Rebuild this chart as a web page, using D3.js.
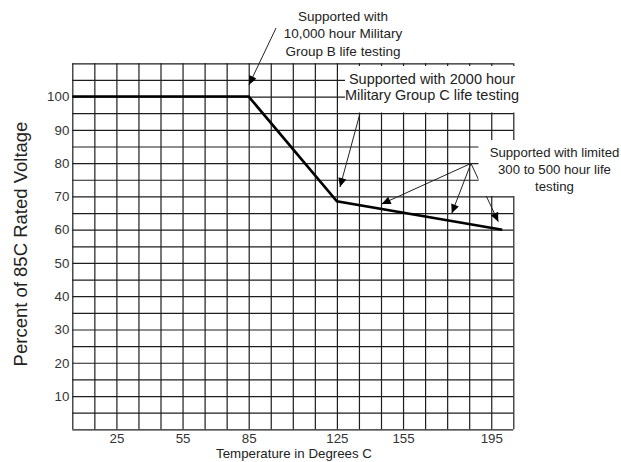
<!DOCTYPE html>
<html>
<head>
<meta charset="utf-8">
<script src="https://cdn.jsdelivr.net/npm/d3@7"></script>
<style>
  html, body { margin: 0; padding: 0; background: #fff; }
  svg { display: block; font-family: "Liberation Sans", Arial, sans-serif; }
</style>
</head>
<body>
<svg id="chart" width="621" height="462"></svg>
<script>
// Derating curve: percent of 85C rated voltage vs. temperature
const temperatures = [5, 85, 125, 200];
const percentRated = [100, 100, 68.5, 60];

// Axis labels
const xTickLabels = [25, 55, 85, 125, 155, 195];
const yTickLabels = [10, 20, 30, 40, 50, 60, 70, 80, 90, 100];

// Grid spacing (data units)
const xGridValues = d3.range(5, 206, 10);
const yGridValues = d3.range(0, 111, 5);

// Annotation arrows in data units: [fromTemp, fromPct, toTemp, toPct]
const arrowsGroupB = [[97.4, 120.6, 85.1, 103.5]];
const arrowsGroupC = [[135.5, 95, 126.4, 72.8]];
const arrowsLimited = [
  [185.8, 79.9, 145.3, 67.7],
  [185.8, 79.9, 177.1, 64.9],
  [185.8, 79.9, 198.2, 62.4]
];

const noteGroupB = ["Supported with", "10,000 hour Military", "Group B life testing"];
const noteGroupC = ["Supported with 2000 hour", "Military Group C life testing"];
const noteLimited = ["Supported with limited", "300 to 500 hour life", "testing"];

const svg = d3.select("#chart");
const margin = { left: 72.3, top: 63.3, right: 621 - 513.3, bottom: 462 - 429.3 };
const W = 621 - margin.left - margin.right;
const H = 462 - margin.top - margin.bottom;

const x = d3.scaleLinear().domain([5, 205]).range([0, W]);
const y = d3.scaleLinear().domain([0, 110]).range([H, 0]);

const g = svg.append("g").attr("transform", `translate(${margin.left},${margin.top})`);
const ink = "#1e1e1e";

// Vertical grid lines
g.append("g")
  .attr("transform", `translate(0,${H})`)
  .call(d3.axisBottom(x).tickValues(xGridValues).tickSize(-H).tickFormat(""))
  .call(a => a.select(".domain").remove())
  .call(a => a.selectAll("line").attr("stroke", ink).attr("stroke-width", 1.2));

// Horizontal grid lines
g.append("g")
  .call(d3.axisLeft(y).tickValues(yGridValues).tickSize(-W).tickFormat(""))
  .call(a => a.select(".domain").remove())
  .call(a => a.selectAll("line").attr("stroke", ink).attr("stroke-width", 1.2));

// Tick labels
g.append("g")
  .attr("transform", `translate(0,${H})`)
  .call(d3.axisBottom(x).tickValues(xTickLabels).tickSize(0).tickPadding(4))
  .call(a => a.select(".domain").remove())
  .call(a => a.selectAll("text").attr("fill", "#333").attr("font-size", 13.3)
    .attr("font-family", "Liberation Sans, Arial, sans-serif"));

g.append("g")
  .call(d3.axisLeft(y).tickValues(yTickLabels).tickSize(0).tickPadding(3))
  .call(a => a.select(".domain").remove())
  .call(a => a.selectAll("text").attr("fill", "#333").attr("font-size", 13.3)
    .attr("font-family", "Liberation Sans, Arial, sans-serif"));

// Axis titles
svg.append("text")
  .attr("x", 294).attr("y", 458)
  .attr("text-anchor", "middle")
  .attr("font-size", 13.3).attr("fill", "#222")
  .text("Temperature in Degrees C");

svg.append("text")
  .attr("transform", "translate(27,244) rotate(-90)")
  .attr("text-anchor", "middle")
  .attr("font-size", 18.5).attr("fill", "#222")
  .text("Percent of 85C Rated Voltage");

// White backgrounds behind notes that sit on the grid
svg.append("rect").attr("x", 345).attr("y", 66).attr("width", 171).attr("height", 46.5).attr("fill", "#fff");
svg.append("rect").attr("x", 478.5).attr("y", 140).attr("width", 145).attr("height", 56).attr("fill", "#fff");

// Derating curve
const pts = temperatures.map((t, i) => [t, percentRated[i]]);
g.append("path")
  .datum(pts)
  .attr("fill", "none")
  .attr("stroke", "#000")
  .attr("stroke-width", 2.6)
  .attr("stroke-linejoin", "miter")
  .attr("d", d3.line().x(d => x(d[0])).y(d => y(d[1])));

// Arrowhead marker
svg.append("defs").append("marker")
  .attr("id", "head")
  .attr("markerUnits", "userSpaceOnUse")
  .attr("viewBox", "0 -5 10 10")
  .attr("refX", 10).attr("refY", 0)
  .attr("markerWidth", 10).attr("markerHeight", 9)
  .attr("orient", "auto")
  .append("path").attr("d", "M0,-4.5L10,0L0,4.5Z").attr("fill", "#000");

const arrows = arrowsGroupB.concat(arrowsGroupC, arrowsLimited);
g.selectAll("line.arrow")
  .data(arrows)
  .join("line")
  .attr("class", "arrow")
  .attr("x1", d => x(d[0])).attr("y1", d => y(d[1]))
  .attr("x2", d => x(d[2])).attr("y2", d => y(d[3]))
  .attr("stroke", "#222").attr("stroke-width", 1)
  .attr("marker-end", "url(#head)");

// Notes
function note(lines, cx, firstBaseline, lineGap, size) {
  svg.append("g").selectAll("text")
    .data(lines)
    .join("text")
    .attr("x", cx)
    .attr("y", (d, i) => firstBaseline + i * lineGap)
    .attr("text-anchor", "middle")
    .attr("font-size", size)
    .attr("fill", "#222")
    .text(d => d);
}
note(noteGroupB, 343, 20.5, 17.5, 13.5);
note(noteGroupC, 432, 83.5, 16.8, 14.5);
note(noteLimited, 554.5, 157, 17, 13.2);
</script>
</body>
</html>
